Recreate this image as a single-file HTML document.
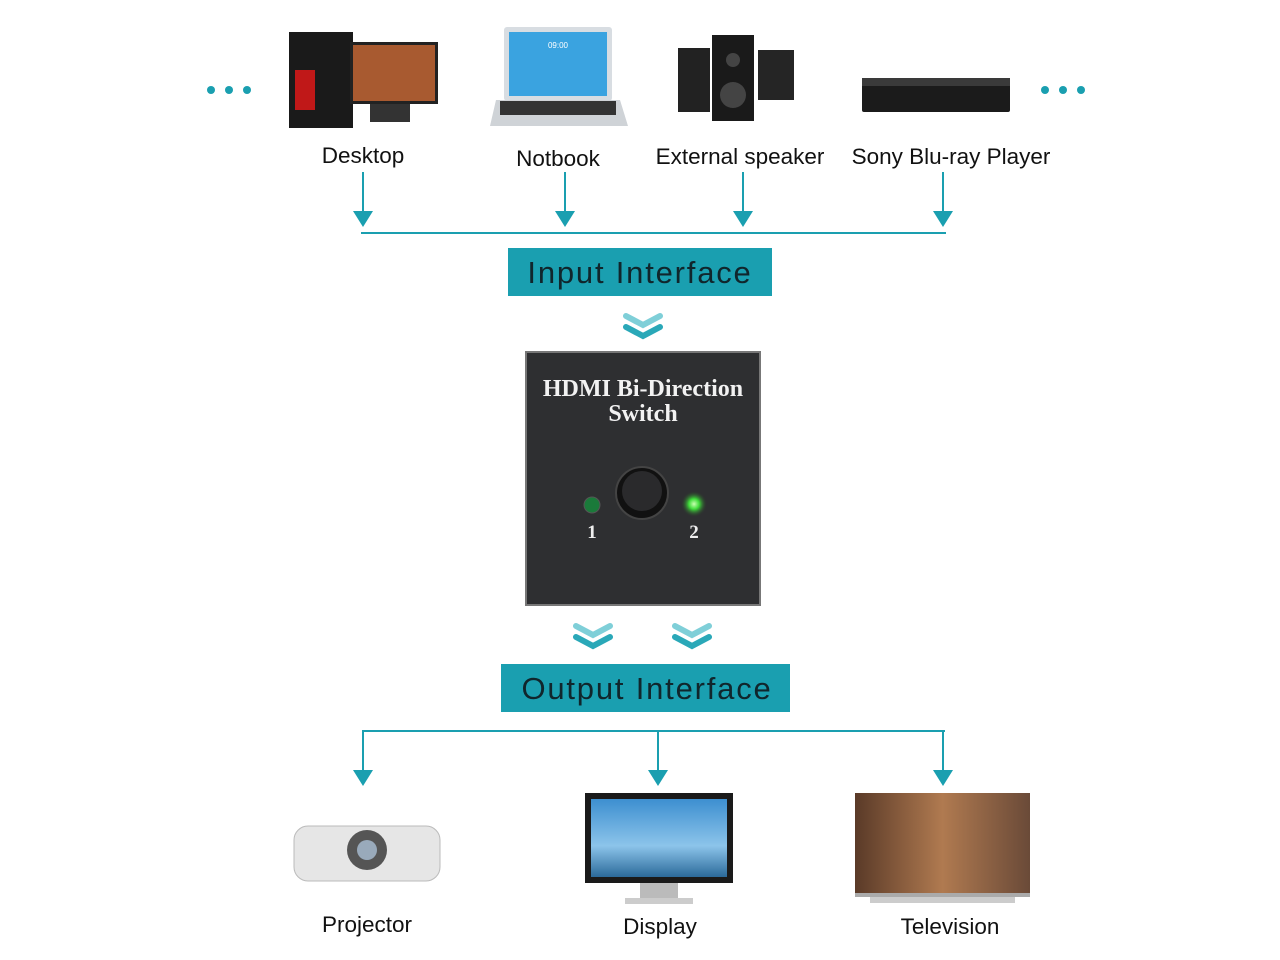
<!DOCTYPE html>
<html><head><meta charset="utf-8"><style>
body{margin:0;background:#fff;width:1280px;height:960px;overflow:hidden}
svg{display:block}
.s{font-family:"Liberation Sans",sans-serif}
.sf{font-family:"Liberation Serif",serif;font-weight:bold}
</style></head><body>
<svg width="1280" height="960" viewBox="0 0 1280 960">
<defs>
<radialGradient id="g2"><stop offset="0" stop-color="#c8ffb0"/><stop offset=".4" stop-color="#3fdc3a"/><stop offset="1" stop-color="#2a3a2a" stop-opacity="0"/></radialGradient>
<linearGradient id="tv" x1="0" x2="1"><stop offset="0" stop-color="#5a3a28"/><stop offset=".5" stop-color="#b07a50"/><stop offset="1" stop-color="#6a4a38"/></linearGradient>
<linearGradient id="sky" x1="0" y1="0" x2="0" y2="1"><stop offset="0" stop-color="#3d8fd0"/><stop offset=".6" stop-color="#8cc4ea"/><stop offset="1" stop-color="#2b6a9a"/></linearGradient>
</defs>
<g fill="#1a9fb0"><circle cx="211" cy="90" r="4"/><circle cx="229" cy="90" r="4"/><circle cx="247" cy="90" r="4"/>
<circle cx="1045" cy="90" r="4"/><circle cx="1063" cy="90" r="4"/><circle cx="1081" cy="90" r="4"/></g>
<rect x="289" y="32" width="64" height="96" fill="#1a1a1a"/>
<rect x="295" y="70" width="20" height="40" fill="#c01818"/>
<rect x="350" y="42" width="88" height="62" fill="#222"/>
<rect x="353" y="45" width="82" height="56" fill="#a85a30"/>
<rect x="370" y="104" width="40" height="18" fill="#333"/>
<rect x="504" y="27" width="108" height="74" rx="3" fill="#d8dde2"/>
<rect x="509" y="32" width="98" height="64" fill="#3aa3e0"/>
<text class="s" x="558" y="48" font-size="8" fill="#fff" text-anchor="middle">09:00</text>
<polygon points="496,100 620,100 628,126 490,126" fill="#cfd3d7"/>
<rect x="500" y="101" width="116" height="14" fill="#333"/>
<rect x="678" y="48" width="32" height="64" fill="#222"/>
<rect x="712" y="35" width="42" height="86" fill="#1a1a1a"/>
<circle cx="733" cy="95" r="13" fill="#444"/><circle cx="733" cy="60" r="7" fill="#444"/>
<rect x="758" y="50" width="36" height="50" fill="#252525"/>
<rect x="862" y="78" width="148" height="34" rx="2" fill="#1b1b1b"/>
<rect x="862" y="78" width="148" height="8" fill="#3a3a3a"/>
<g class="s" font-size="22.5" fill="#111" text-anchor="middle">
<text x="363" y="163">Desktop</text><text x="558" y="166">Notbook</text>
<text x="740" y="164">External speaker</text><text x="951" y="164">Sony Blu-ray Player</text>
<text x="367" y="932">Projector</text><text x="660" y="934">Display</text><text x="950" y="934">Television</text></g>
<g stroke="#1a9fb0" stroke-width="2" fill="none">
<line x1="363" y1="172" x2="363" y2="214"/><line x1="565" y1="172" x2="565" y2="214"/>
<line x1="743" y1="172" x2="743" y2="214"/><line x1="943" y1="172" x2="943" y2="214"/>
<line x1="361" y1="233" x2="946" y2="233"/>
<line x1="362" y1="731" x2="945" y2="731"/>
<line x1="363" y1="731" x2="363" y2="772"/><line x1="658" y1="731" x2="658" y2="772"/><line x1="943" y1="731" x2="943" y2="772"/>
</g>
<g fill="#1a9fb0">
<polygon points="353,211 373,211 363,227"/><polygon points="555,211 575,211 565,227"/>
<polygon points="733,211 753,211 743,227"/><polygon points="933,211 953,211 943,227"/>
<polygon points="353,770 373,770 363,786"/><polygon points="648,770 668,770 658,786"/><polygon points="933,770 953,770 943,786"/>
</g>
<rect x="508" y="248" width="264" height="48" fill="#1a9fb0"/>
<text class="s" x="640" y="283" font-size="31" letter-spacing="1.8" fill="#10262c" text-anchor="middle">Input Interface</text>
<rect x="501" y="664" width="289" height="48" fill="#1a9fb0"/>
<text class="s" x="647" y="699" font-size="31" letter-spacing="1.8" fill="#10262c" text-anchor="middle">Output Interface</text>
<g fill="none" stroke="#2aa8b8" stroke-width="6" stroke-linecap="round">
<polyline points="626,316 643,325 660,316" stroke="#7fcfd8"/><polyline points="626,327 643,336 660,327"/>
<polyline points="576,626 593,635 610,626" stroke="#7fcfd8"/><polyline points="576,637 593,646 610,637"/>
<polyline points="675,626 692,635 709,626" stroke="#7fcfd8"/><polyline points="675,637 692,646 709,637"/>
</g>
<rect x="526" y="352" width="234" height="253" fill="#2e2f31" stroke="#777" stroke-width="2"/>
<text class="sf" x="643" y="396" font-size="24" fill="#f2f2f2" text-anchor="middle">HDMI Bi-Direction</text>
<text class="sf" x="643" y="421" font-size="24" fill="#f2f2f2" text-anchor="middle">Switch</text>
<circle cx="642" cy="493" r="26" fill="#111" stroke="#444" stroke-width="2"/>
<circle cx="642" cy="491" r="20" fill="#2a2a2c"/>
<circle cx="592" cy="505" r="8" fill="#1a7a3a" stroke="#555"/>
<circle cx="694" cy="504" r="13" fill="url(#g2)"/>
<text class="sf" x="592" y="538" font-size="19" fill="#eee" text-anchor="middle">1</text>
<text class="sf" x="694" y="538" font-size="19" fill="#eee" text-anchor="middle">2</text>
<rect x="294" y="826" width="146" height="55" rx="14" fill="#e6e6e6" stroke="#bbb"/>
<circle cx="367" cy="850" r="20" fill="#555"/><circle cx="367" cy="850" r="10" fill="#9ab"/>
<rect x="585" y="793" width="148" height="90" fill="#1a1a1a"/>
<rect x="591" y="799" width="136" height="78" fill="url(#sky)"/>
<rect x="640" y="883" width="38" height="16" fill="#bbb"/>
<rect x="625" y="898" width="68" height="6" fill="#ccc"/>
<rect x="855" y="793" width="175" height="100" fill="url(#tv)"/>
<rect x="855" y="893" width="175" height="4" fill="#aaa"/>
<rect x="870" y="897" width="145" height="6" fill="#ccc"/>
</svg>
</body></html>
